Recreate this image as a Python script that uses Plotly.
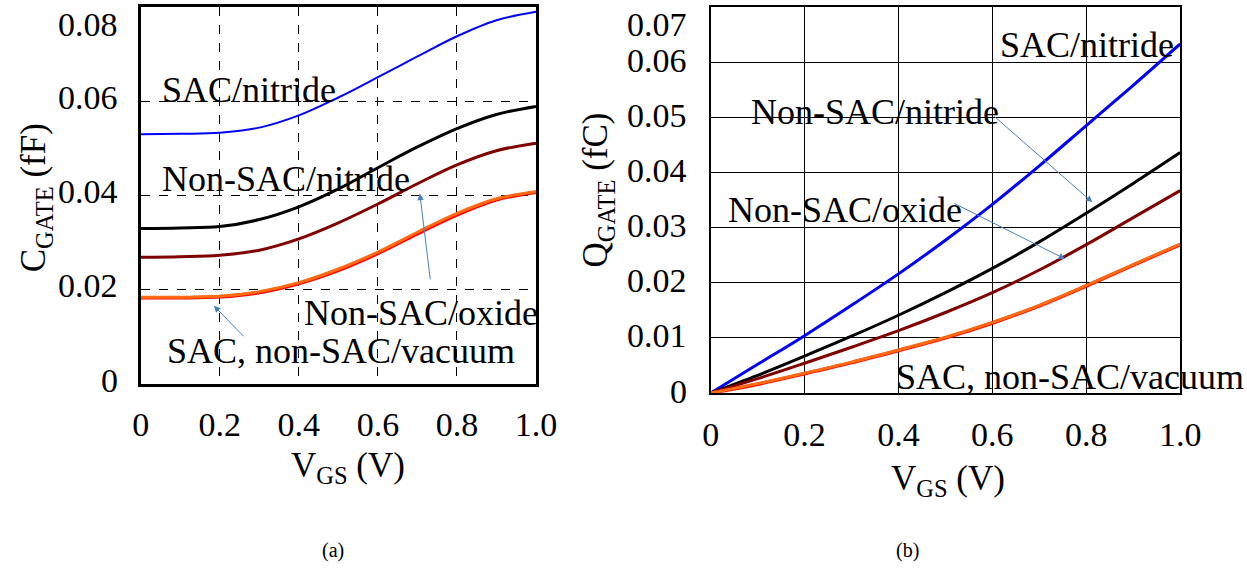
import plotly.graph_objects as go

W, H = 1247, 569

# ---------------- data ----------------
V = [0.0, 0.1, 0.2, 0.3, 0.4, 0.5, 0.6, 0.7, 0.8, 0.9, 1.0]

# (a) gate capacitance, fF
c_sac_nitride    = [0.0530, 0.0531, 0.0533, 0.0544, 0.0570, 0.0608, 0.0651, 0.0695, 0.0738, 0.0772, 0.0790]
c_nonsac_nitride = [0.0330, 0.0331, 0.0334, 0.0349, 0.0376, 0.0414, 0.0459, 0.0503, 0.0542, 0.0572, 0.0589]
c_nonsac_oxide   = [0.0269, 0.0270, 0.0273, 0.0284, 0.0308, 0.0342, 0.0382, 0.0425, 0.0465, 0.0495, 0.0511]
c_sac_vacuum     = [0.0183, 0.0183, 0.0185, 0.0194, 0.0213, 0.0241, 0.0277, 0.0319, 0.0359, 0.0391, 0.0407]
c_nonsac_vacuum  = [0.0184, 0.0184, 0.0186, 0.0196, 0.0215, 0.0244, 0.0280, 0.0322, 0.0362, 0.0393, 0.0408]

# (b) gate charge, fC
q_sac_nitride    = [0.0, 0.0052, 0.0104, 0.0159, 0.0216, 0.0277, 0.0342, 0.0412, 0.0485, 0.0558, 0.0633]
q_nonsac_nitride = [0.0, 0.0032, 0.0067, 0.0103, 0.0141, 0.0182, 0.0226, 0.0274, 0.0326, 0.0380, 0.0436]
q_nonsac_oxide   = [0.0, 0.0026, 0.0054, 0.0083, 0.0113, 0.0146, 0.0182, 0.0223, 0.0269, 0.0318, 0.0367]
q_sac_vacuum     = [0.0, 0.0016, 0.0035, 0.0055, 0.0077, 0.0100, 0.0127, 0.0158, 0.0194, 0.0232, 0.0269]
q_nonsac_vacuum  = [0.0, 0.0017, 0.0036, 0.0056, 0.0078, 0.0101, 0.0128, 0.0159, 0.0195, 0.0233, 0.0270]

x_tickvals = [0, 0.2, 0.4, 0.6, 0.8, 1.0]
x_ticktext = ["0", "0.2", "0.4", "0.6", "0.8", "1.0"]
ya_tickvals = [0, 0.02, 0.04, 0.06, 0.08]
ya_ticktext = ["0", "0.02", "0.04", "0.06", "0.08"]
yb_tickvals = [0, 0.01, 0.02, 0.03, 0.04, 0.05, 0.06, 0.07]
yb_ticktext = ["0", "0.01", "0.02", "0.03", "0.04", "0.05", "0.06", "0.07"]

# ---------------- styling ----------------
FONT = "Liberation Serif, Times New Roman, serif"
BLUE, BLACK, DRED, RED, ORANGE = "#0000FF", "#000000", "#800000", "#FF0000", "#FF6A10"
ARROW = "#4A7EBB"

def px_x(p):
    return p / W

def px_y(p):
    return 1 - p / H

fig = go.Figure()

def add(x, y, color, width, xa, ya):
    fig.add_trace(go.Scatter(x=x, y=y, mode="lines",
                             line=dict(color=color, width=width, shape="spline", smoothing=1.0),
                             xaxis=xa, yaxis=ya, showlegend=False, hoverinfo="skip"))

add(V, c_sac_nitride, BLUE, 2, "x", "y")
add(V, c_nonsac_nitride, BLACK, 3, "x", "y")
add(V, c_nonsac_oxide, DRED, 3, "x", "y")
add(V, c_sac_vacuum, RED, 3.5, "x", "y")
add(V, c_nonsac_vacuum, ORANGE, 3, "x", "y")

add(V, q_sac_nitride, BLUE, 3, "x2", "y2")
add(V, q_nonsac_nitride, BLACK, 3, "x2", "y2")
add(V, q_nonsac_oxide, DRED, 3, "x2", "y2")
add(V, q_sac_vacuum, RED, 3.5, "x2", "y2")
add(V, q_nonsac_vacuum, ORANGE, 3, "x2", "y2")

tickfont = dict(family=FONT, size=34, color="black")

xcommon = dict(range=[0, 1.0], tickvals=x_tickvals, ticktext=x_ticktext, tickfont=tickfont,
               showline=True, mirror=True, linecolor="black", zeroline=False, ticks="",
               gridcolor="black", gridwidth=1, fixedrange=True)
ycommon = dict(showline=True, mirror=True, linecolor="black", zeroline=False, ticks="",
               showticklabels=False, gridcolor="black", gridwidth=1, fixedrange=True)

fig.update_layout(
    width=W, height=H, margin=dict(l=0, r=0, t=0, b=0),
    paper_bgcolor="white", plot_bgcolor="white",
    font=dict(family=FONT, color="black"),
    xaxis=dict(domain=[px_x(135), px_x(540)], anchor="y", griddash="dash", linewidth=3,
               ticklabelstandoff=8, **xcommon),
    yaxis=dict(domain=[px_y(384), px_y(7)], anchor="x", range=[0, 0.08], tickvals=ya_tickvals,
               griddash="dash", linewidth=3, **ycommon),
    xaxis2=dict(domain=[px_x(719), px_x(1200)], anchor="y2", linewidth=2,
                ticklabelstandoff=10, **xcommon),
    yaxis2=dict(domain=[px_y(393), px_y(7)], anchor="x2", range=[0, 0.07], tickvals=yb_tickvals,
                linewidth=2, **ycommon),
)

ann = []
# y tick labels
for v, t in zip(ya_tickvals, ya_ticktext):
    top = v == max(ya_tickvals)
    ann.append(dict(x=px_x(114), xref="paper", y=v, yref="y", text=t, showarrow=False,
                    xanchor="right", yanchor="top" if top else "middle", yshift=3 if top else 4,
                    font=tickfont))
for v, t in zip(yb_tickvals, yb_ticktext):
    top = v == max(yb_tickvals)
    ann.append(dict(x=px_x(697), xref="paper", y=v, yref="y2", text=t, showarrow=False,
                    xanchor="right", yanchor="top" if top else "middle", yshift=3 if top else 2,
                    font=tickfont))

def title(px, py, text, angle=0, size=35):
    ann.append(dict(x=px_x(px), y=px_y(py), xref="paper", yref="paper", text=text,
                    textangle=angle, showarrow=False, xanchor="center", yanchor="middle",
                    font=dict(family=FONT, size=size)))

# axis titles
title(28, 198, "C<sub>GATE</sub> (fF)", -90)
title(347, 468, "V<sub>GS</sub> (V)")
title(603, 190, "Q<sub>GATE</sub> (fC)", -90)
title(962, 480, "V<sub>GS</sub> (V)")
# captions
title(332, 550, "(a)", size=20)
title(921, 550, "(b)", size=20)

lab = dict(family=FONT, size=36, color="black")

def label(x, y, text, xr, yr):
    ann.append(dict(x=x, y=y, xref=xr, yref=yr, text=text, showarrow=False,
                    xanchor="left", yanchor="middle", font=lab))

# panel (a) labels
label(0.049, 0.0623, "SAC/nitride", "x", "y")
label(0.049, 0.0436, "Non-SAC/nitride", "x", "y")
label(0.407, 0.0151, "Non-SAC/oxide", "x", "y")
label(0.062, 0.0070, "SAC, non-SAC/vacuum", "x", "y")
# panel (b) labels
label(0.613, 0.0631, "SAC/nitride", "x2", "y2")
label(0.081, 0.0510, "Non-SAC/nitride", "x2", "y2")
label(0.033, 0.0332, "Non-SAC/oxide", "x2", "y2")
label(0.391, 0.0029, "SAC, non-SAC/vacuum", "x2", "y2")

# arrows
def arrow(xh, yh, xt, yt, xr, yr):
    ann.append(dict(x=xh, y=yh, ax=xt, ay=yt, xref=xr, yref=yr, axref=xr, ayref=yr, text="",
                    showarrow=True, arrowhead=2, arrowsize=1.3, arrowwidth=1, arrowcolor=ARROW))

arrow(0.706, 0.0404, 0.733, 0.0219, "x", "y")
arrow(0.185, 0.0166, 0.264, 0.0098, "x", "y")
arrow(0.813, 0.0346, 0.601, 0.0504, "x2", "y2")
arrow(0.755, 0.0243, 0.516, 0.0345, "x2", "y2")

fig.update_layout(annotations=ann)
fig.write_html("out.html")
